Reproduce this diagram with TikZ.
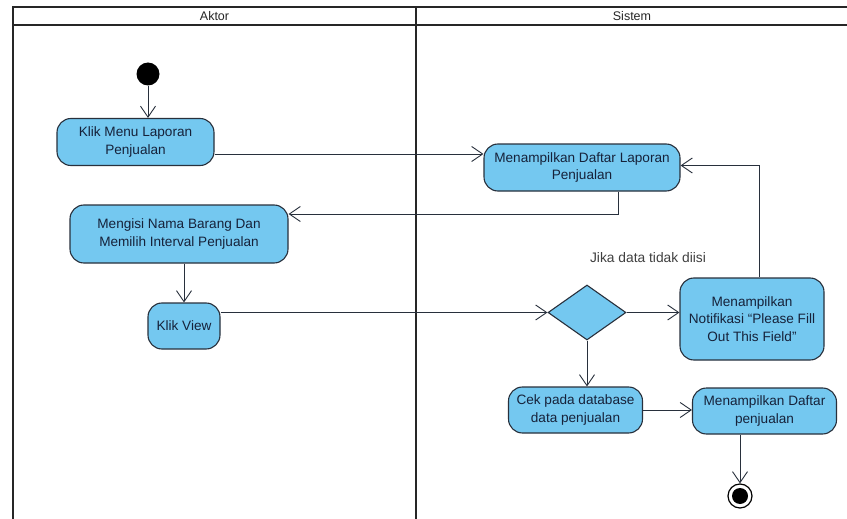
\documentclass[tikz,border=0pt]{standalone}
\usepackage{fontspec}
\setmainfont{Liberation Sans}
\usetikzlibrary{arrows.meta,shapes.geometric}

\definecolor{actfill}{RGB}{116,200,240}
\definecolor{actline}{RGB}{40,48,60}
\definecolor{acttext}{RGB}{22,34,58}
\definecolor{laneline}{RGB}{38,38,38}

\tikzset{
  activity/.style={rectangle, rounded corners=14pt, draw=actline, line width=1.1pt,
    fill=actfill, text=acttext, align=center, inner sep=2pt,
    font=\fontsize{13.6}{17.5}\selectfont},
  decision/.style={diamond, draw=actline, line width=1.1pt, fill=actfill,
    inner sep=0pt, minimum width=78pt, minimum height=55pt},
  flow/.style={draw=actline, line width=0.9pt,
    -{Straight Barb[length=11pt,width=15pt,line width=0.9pt]}},
  lane/.style={draw=laneline, line width=2.4pt},
  lanetitle/.style={font=\fontsize{12.5}{14}\selectfont, text=black!85},
  guard/.style={font=\fontsize{13.8}{16}\selectfont, text=black!75}
}

\begin{document}
\begin{tikzpicture}[x=1pt,y=-1pt]
  \useasboundingbox (0,0) rectangle (847,519);
  \fill[white] (0,0) rectangle (847,519);

  % swimlanes
  \draw[lane] (13,519) -- (13,7) -- (850,7);
  \draw[lane] (13,25) -- (850,25);
  \draw[lane] (416,7) -- (416,519);
  \node[lanetitle] (aktor) at (214.5,16) {Aktor};
  \node[lanetitle] (sistem) at (632,16) {Sistem};

  % start node
  \node[circle, fill=black, minimum size=23pt, inner sep=0pt] (start) at (148,74) {};

  % activities
  \node[activity, minimum width=157pt, minimum height=47pt] (klik) at (135.5,142)
    {Klik Menu Laporan\\Penjualan};
  \node[activity, minimum width=196pt, minimum height=47pt] (lap) at (582,167.5)
    {Menampilkan Daftar Laporan\\Penjualan};
  \node[activity, minimum width=218pt, minimum height=58pt] (isi) at (179,234)
    {Mengisi Nama Barang Dan\\Memilih Interval Penjualan};
  \node[activity, minimum width=72pt, minimum height=46pt] (view) at (184,326)
    {Klik View};
  \node[decision] (dec) at (587,312.5) {};
  \node[activity, minimum width=144pt, minimum height=82pt] (notif) at (752,319)
    {Menampilkan\\Notifikasi ``Please Fill\\Out This Field''};
  \node[activity, minimum width=134pt, minimum height=46pt] (cek) at (575.5,410)
    {Cek pada database\\data penjualan};
  \node[activity, minimum width=144pt, minimum height=46pt] (pen) at (764.5,411)
    {Menampilkan Daftar\\penjualan};

  % final node
  \node[circle, draw=black, line width=1.2pt, fill=white, minimum size=24pt, inner sep=0pt,
    path picture={\fill[black] (path picture bounding box.center) circle (8pt);}]
    (end) at (740,496) {};

  % guard label
  \node[guard] (jika) at (648,258) {Jika data tidak diisi};

  % control flows
  \draw[flow] (start) -- (start |- klik.north);
  \draw[flow] ([yshift=-12pt]klik.east) coordinate (a1) -- (a1 -| lap.west);
  \draw[flow] ([xshift=36pt]lap.south) |- ([yshift=20pt]isi.east);
  \draw[flow] (view.north |- isi.south) -- (view.north);
  \draw[flow] (dec.west -| view.east) -- (dec.west);
  \draw[flow] (dec.east) -- (dec.east -| notif.west);
  \draw[flow] ([xshift=7pt]notif.north) |- ([yshift=2pt]lap.east);
  \draw[flow] (dec.south) -- (dec.south |- cek.north);
  \draw[flow] (cek.east) -- (cek.east -| pen.west);
  \draw[flow] (end |- pen.south) -- (end.north);
\end{tikzpicture}
\end{document}
